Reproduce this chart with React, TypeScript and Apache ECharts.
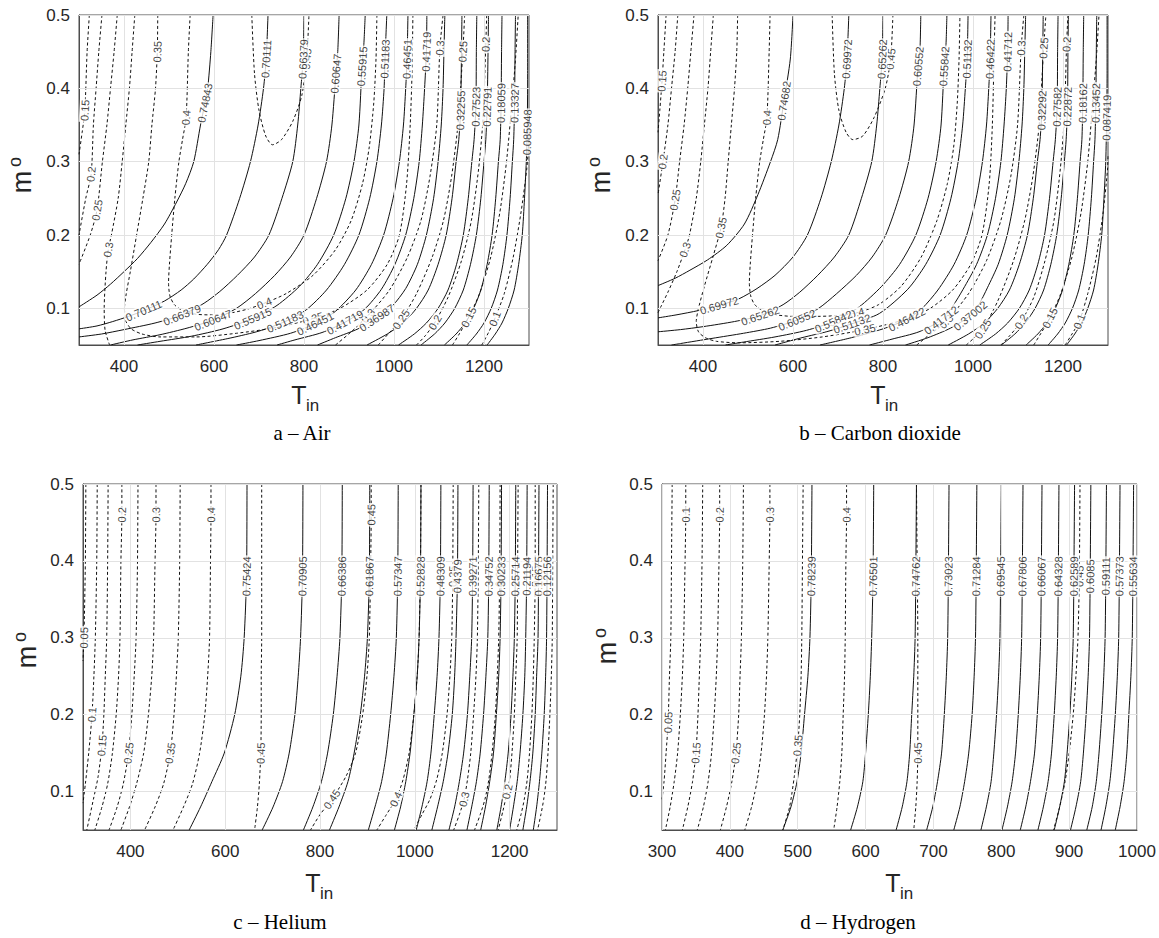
import React, { useEffect, useRef } from 'react';
import * as echarts from 'echarts';

type Line = { v: string; d: boolean; p: number[][]; l: number[] };

// ---------- tick labels ----------
const X_TICKS_WIDE = [400, 600, 800, 1000, 1200];
const X_TICKS_H2 = [300, 400, 500, 600, 700, 800, 900, 1000];
const Y_TICKS = [0.1, 0.2, 0.3, 0.4, 0.5];

// ---------- a – Air ----------
const AIR_SOLID: Line[] = [
  { v: '0.74843', d: false, l: [3], p: [[598,0.5],[593,0.45],[586,0.4],[580,0.38],[570,0.35],[555,0.3],[537,0.27],[517,0.245],[490,0.215],[460,0.19],[430,0.168],[400,0.15],[370,0.133],[340,0.118],[300,0.102]] },
  { v: '0.70111', d: false, l: [1, 12], p: [[720,0.5],[716,0.44],[710,0.4],[698,0.35],[681,0.3],[657,0.25],[628,0.2],[610,0.18],[585,0.16],[555,0.14],[527,0.125],[490,0.11],[444,0.097],[410,0.089],[375,0.082],[340,0.076],[300,0.072]] },
  { v: '0.66379', d: false, l: [1, 11], p: [[800,0.5],[798,0.44],[793,0.4],[786,0.35],[775,0.3],[751,0.25],[722,0.2],[690,0.17],[652,0.145],[613,0.123],[578,0.107],[529,0.091],[469,0.08],[400,0.071],[350,0.065],[300,0.061]] },
  { v: '0.60647', d: false, l: [2, 11], p: [[878,0.5],[875,0.45],[871,0.42],[862,0.35],[850,0.3],[828,0.25],[800,0.2],[770,0.17],[735,0.145],[692,0.12],[650,0.1],[598,0.084],[540,0.073],[480,0.064],[420,0.057],[370,0.05]] },
  { v: '0.55915', d: false, l: [2, 10], p: [[936,0.5],[933,0.46],[929,0.43],[922,0.35],[911,0.3],[893,0.25],[866,0.2],[830,0.16],[790,0.13],[740,0.104],[686,0.086],[620,0.072],[550,0.062],[480,0.055],[430,0.05]] },
  { v: '0.51183', d: false, l: [1, 10], p: [[984,0.5],[980,0.44],[978,0.4],[972,0.35],[962,0.3],[946,0.25],[922,0.2],[890,0.16],[850,0.125],[805,0.098],[758,0.082],[700,0.069],[640,0.06],[560,0.05]] },
  { v: '0.46451', d: false, l: [1, 10], p: [[1031,0.5],[1029,0.44],[1026,0.4],[1021,0.35],[1012,0.3],[998,0.25],[977,0.2],[950,0.16],[915,0.125],[870,0.096],[825,0.079],[770,0.066],[700,0.056],[650,0.05]] },
  { v: '0.41719', d: false, l: [1, 10], p: [[1073,0.5],[1072,0.45],[1068,0.4],[1063,0.35],[1056,0.3],[1044,0.25],[1026,0.2],[1002,0.16],[972,0.126],[935,0.099],[891,0.081],[840,0.067],[780,0.057],[740,0.05]] },
  { v: '0.36987', d: false, l: [10], p: [[1113,0.5],[1111,0.45],[1109,0.4],[1105,0.35],[1098,0.3],[1088,0.25],[1072,0.2],[1052,0.16],[1026,0.127],[996,0.103],[962,0.087],[920,0.072],[870,0.06],[830,0.05]] },
  { v: '0.32255', d: false, l: [2], p: [[1151,0.5],[1150,0.45],[1148,0.37],[1144,0.33],[1138,0.3],[1129,0.25],[1116,0.2],[1098,0.16],[1076,0.125],[1050,0.1],[1020,0.08],[985,0.065],[940,0.05]] },
  { v: '0.27523', d: false, l: [2], p: [[1184,0.5],[1183,0.45],[1182,0.375],[1178,0.33],[1173,0.3],[1165,0.25],[1154,0.2],[1139,0.16],[1120,0.125],[1098,0.1],[1072,0.08],[1045,0.065],[1010,0.05]] },
  { v: '0.22791', d: false, l: [2], p: [[1210,0.5],[1209,0.45],[1207,0.375],[1204,0.33],[1200,0.3],[1193,0.25],[1183,0.2],[1170,0.16],[1154,0.125],[1135,0.1],[1113,0.08],[1090,0.065],[1060,0.05]] },
  { v: '0.18059', d: false, l: [2], p: [[1240,0.5],[1239,0.45],[1238,0.38],[1236,0.33],[1232,0.3],[1226,0.25],[1218,0.2],[1207,0.16],[1193,0.125],[1177,0.1],[1158,0.08],[1138,0.065],[1112,0.05]] },
  { v: '0.13327', d: false, l: [2], p: [[1270,0.5],[1269,0.45],[1268,0.38],[1266,0.33],[1263,0.3],[1258,0.25],[1251,0.2],[1242,0.16],[1230,0.125],[1216,0.1],[1200,0.08],[1183,0.065],[1162,0.05]] },
  { v: '0.085948', d: false, l: [2], p: [[1297,0.5],[1297,0.42],[1296,0.34],[1294,0.3],[1290,0.25],[1285,0.2],[1277,0.16],[1267,0.125],[1254,0.1],[1240,0.08],[1225,0.065],[1207,0.05]] },
];
const AIR_DASHED: Line[] = [
  { v: '0.45', d: true, l: [8], p: [[684,0.5],[690,0.42],[700,0.37],[715,0.335],[730,0.323],[750,0.33],[775,0.355],[795,0.39],[806,0.44],[811,0.5]] },
  { v: '0.4', d: true, l: [2, 16], p: [[547,0.5],[543,0.45],[538,0.36],[530,0.33],[522,0.3],[513,0.25],[506,0.2],[501,0.16],[499,0.135],[502,0.117],[512,0.105],[530,0.097],[560,0.092],[600,0.091],[640,0.094],[675,0.099],[712,0.107],[760,0.12],[820,0.145],[870,0.18],[905,0.22],[930,0.27],[945,0.32],[955,0.38],[960,0.44],[962,0.5]] },
  { v: '0.35', d: true, l: [1, 17], p: [[475,0.5],[474,0.45],[470,0.4],[462,0.35],[455,0.3],[442,0.25],[428,0.2],[414,0.15],[405,0.12],[401,0.1],[404,0.083],[416,0.072],[440,0.065],[480,0.061],[560,0.061],[650,0.066],[740,0.074],[820,0.086],[880,0.1],[940,0.125],[985,0.16],[1012,0.2],[1028,0.27],[1036,0.35],[1040,0.42],[1042,0.5]] },
  { v: '0.3', d: true, l: [7], p: [[424,0.5],[418,0.45],[412,0.4],[404,0.35],[396,0.3],[387,0.25],[372,0.2],[365,0.18],[360,0.15],[356,0.1],[358,0.07],[368,0.05]] },
  { v: '0.3', d: true, l: [2, 8], p: [[870,0.05],[905,0.068],[942,0.09],[990,0.125],[1030,0.17],[1060,0.22],[1080,0.28],[1095,0.35],[1102,0.455],[1109,0.5]] },
  { v: '0.25', d: true, l: [5], p: [[385,0.5],[378,0.45],[370,0.4],[362,0.35],[352,0.3],[340,0.234],[325,0.2],[300,0.16]] },
  { v: '0.25', d: true, l: [2, 8], p: [[965,0.05],[990,0.067],[1016,0.085],[1050,0.12],[1085,0.17],[1110,0.22],[1128,0.28],[1142,0.35],[1153,0.45],[1157,0.5]] },
  { v: '0.2', d: true, l: [4], p: [[351,0.5],[344,0.45],[338,0.4],[332,0.35],[327,0.283],[315,0.25],[300,0.2]] },
  { v: '0.2', d: true, l: [2, 8], p: [[1050,0.05],[1070,0.063],[1091,0.081],[1120,0.115],[1150,0.165],[1172,0.22],[1188,0.29],[1198,0.36],[1204,0.46],[1206,0.5]] },
  { v: '0.15', d: true, l: [2], p: [[323,0.5],[318,0.45],[313,0.37],[307,0.34],[300,0.31]] },
  { v: '0.15', d: true, l: [2], p: [[1130,0.05],[1145,0.065],[1166,0.088],[1190,0.12],[1215,0.17],[1235,0.23],[1250,0.3],[1262,0.38],[1270,0.44],[1276,0.5]] },
  { v: '0.1', d: true, l: [2], p: [[1195,0.05],[1210,0.067],[1224,0.086],[1245,0.12],[1265,0.17],[1282,0.23],[1295,0.29],[1300,0.33]] },
];

// ---------- b – Carbon dioxide ----------
const CO2_SOLID: Line[] = [
  { v: '0.74682', d: false, l: [2], p: [[600,0.5],[594,0.44],[580,0.383],[566,0.33],[550,0.3],[522,0.255],[492,0.215],[453,0.186],[410,0.166],[371,0.152],[338,0.141],[300,0.131]] },
  { v: '0.69972', d: false, l: [1, 11], p: [[724,0.5],[720,0.44],[714,0.4],[702,0.35],[685,0.3],[662,0.25],[632,0.2],[600,0.17],[560,0.145],[520,0.127],[480,0.113],[436,0.104],[390,0.097],[340,0.091],[300,0.087]] },
  { v: '0.65262', d: false, l: [1, 11], p: [[800,0.5],[798,0.44],[793,0.4],[786,0.35],[775,0.3],[752,0.25],[724,0.2],[692,0.17],[655,0.145],[615,0.122],[578,0.105],[527,0.09],[470,0.082],[400,0.075],[350,0.071],[300,0.068]] },
  { v: '0.60552', d: false, l: [2, 11], p: [[884,0.5],[882,0.45],[878,0.43],[869,0.35],[857,0.3],[835,0.25],[806,0.2],[776,0.17],[741,0.145],[697,0.12],[657,0.1],[609,0.084],[550,0.073],[490,0.066],[420,0.059],[350,0.052],[330,0.05]] },
  { v: '0.55842', d: false, l: [2, 10], p: [[942,0.5],[940,0.46],[936,0.43],[929,0.35],[918,0.3],[900,0.25],[873,0.2],[837,0.16],[797,0.13],[747,0.102],[690,0.082],[630,0.07],[560,0.061],[490,0.054],[450,0.05]] },
  { v: '0.51132', d: false, l: [1, 10], p: [[989,0.5],[987,0.44],[983,0.4],[977,0.35],[967,0.3],[951,0.25],[927,0.2],[895,0.16],[855,0.126],[792,0.093],[731,0.079],[680,0.069],[620,0.06],[560,0.05]] },
  { v: '0.46422', d: false, l: [1, 10], p: [[1040,0.5],[1038,0.44],[1035,0.4],[1030,0.35],[1021,0.3],[1007,0.25],[986,0.2],[958,0.16],[922,0.125],[887,0.1],[853,0.085],[800,0.072],[730,0.06],[660,0.05]] },
  { v: '0.41712', d: false, l: [1, 10], p: [[1078,0.5],[1077,0.45],[1074,0.4],[1069,0.35],[1062,0.3],[1050,0.25],[1032,0.2],[1008,0.16],[978,0.126],[955,0.103],[929,0.084],[880,0.068],[820,0.058],[770,0.05]] },
  { v: '0.37002', d: false, l: [10], p: [[1117,0.5],[1115,0.45],[1113,0.4],[1109,0.35],[1102,0.3],[1092,0.25],[1076,0.2],[1056,0.16],[1032,0.128],[1013,0.105],[994,0.09],[950,0.073],[900,0.06],[850,0.05]] },
  { v: '0.32292', d: false, l: [2], p: [[1156,0.5],[1155,0.45],[1153,0.37],[1149,0.33],[1143,0.3],[1134,0.25],[1121,0.2],[1103,0.16],[1081,0.125],[1055,0.1],[1025,0.08],[990,0.065],[945,0.05]] },
  { v: '0.27582', d: false, l: [2], p: [[1189,0.5],[1188,0.45],[1187,0.375],[1183,0.33],[1178,0.3],[1170,0.25],[1159,0.2],[1144,0.16],[1125,0.125],[1103,0.1],[1077,0.08],[1050,0.065],[1015,0.05]] },
  { v: '0.22872', d: false, l: [2], p: [[1212,0.5],[1211,0.45],[1210,0.375],[1207,0.33],[1203,0.3],[1196,0.25],[1186,0.2],[1173,0.16],[1157,0.125],[1138,0.1],[1116,0.08],[1093,0.065],[1063,0.05]] },
  { v: '0.18162', d: false, l: [2], p: [[1246,0.5],[1245,0.45],[1244,0.38],[1242,0.33],[1238,0.3],[1232,0.25],[1224,0.2],[1213,0.16],[1199,0.125],[1183,0.1],[1164,0.08],[1144,0.065],[1118,0.05]] },
  { v: '0.13452', d: false, l: [2], p: [[1275,0.5],[1274,0.45],[1273,0.38],[1271,0.33],[1268,0.3],[1263,0.25],[1256,0.2],[1247,0.16],[1235,0.125],[1221,0.1],[1205,0.08],[1188,0.065],[1167,0.05]] },
  { v: '0.087419', d: false, l: [2], p: [[1298,0.5],[1298,0.42],[1297,0.36],[1295,0.3],[1291,0.25],[1286,0.2],[1278,0.16],[1268,0.125],[1255,0.1],[1241,0.08],[1226,0.065],[1208,0.05]] },
];
const CO2_DASHED: Line[] = [
  { v: '0.45', d: true, l: [8], p: [[687,0.5],[692,0.42],[702,0.37],[718,0.34],[733,0.33],[755,0.335],[780,0.36],[805,0.4],[817,0.44],[822,0.5]] },
  { v: '0.4', d: true, l: [2, 16], p: [[549,0.5],[547,0.45],[542,0.36],[534,0.33],[526,0.3],[517,0.25],[510,0.2],[505,0.16],[503,0.135],[506,0.117],[515,0.105],[535,0.096],[565,0.091],[600,0.089],[645,0.089],[695,0.09],[742,0.094],[790,0.105],[840,0.13],[885,0.17],[920,0.22],[943,0.27],[957,0.32],[965,0.38],[969,0.44],[971,0.5]] },
  { v: '0.35', d: true, l: [6, 17], p: [[477,0.5],[475,0.45],[470,0.4],[463,0.35],[456,0.3],[449,0.25],[440,0.21],[422,0.17],[403,0.13],[390,0.1],[385,0.082],[390,0.068],[405,0.06],[430,0.055],[480,0.053],[570,0.055],[665,0.061],[760,0.071],[850,0.085],[905,0.1],[955,0.125],[995,0.16],[1020,0.2],[1036,0.27],[1043,0.35],[1047,0.45],[1049,0.5]] },
  { v: '0.3', d: true, l: [7], p: [[423,0.5],[417,0.45],[411,0.4],[403,0.35],[395,0.3],[385,0.25],[370,0.2],[360,0.18],[342,0.15],[322,0.122],[307,0.103],[300,0.094]] },
  { v: '0.3', d: true, l: [2, 8], p: [[875,0.05],[905,0.065],[940,0.082],[990,0.12],[1030,0.165],[1062,0.22],[1084,0.28],[1099,0.35],[1107,0.455],[1113,0.5]] },
  { v: '0.25', d: true, l: [5], p: [[380,0.5],[373,0.45],[366,0.4],[358,0.35],[348,0.3],[338,0.248],[322,0.2],[300,0.165]] },
  { v: '0.25', d: true, l: [2, 8], p: [[985,0.05],[1003,0.06],[1022,0.072],[1055,0.11],[1090,0.165],[1115,0.22],[1133,0.28],[1147,0.35],[1157,0.455],[1162,0.5]] },
  { v: '0.2', d: true, l: [4], p: [[344,0.5],[338,0.45],[330,0.4],[322,0.35],[311,0.3],[300,0.255]] },
  { v: '0.2', d: true, l: [2, 8], p: [[1062,0.05],[1082,0.063],[1107,0.082],[1135,0.115],[1160,0.165],[1180,0.22],[1194,0.29],[1203,0.36],[1208,0.46],[1211,0.5]] },
  { v: '0.15', d: true, l: [2], p: [[318,0.5],[313,0.45],[309,0.41],[304,0.37],[300,0.34]] },
  { v: '0.15', d: true, l: [2], p: [[1135,0.05],[1150,0.065],[1171,0.087],[1195,0.12],[1220,0.17],[1240,0.23],[1255,0.3],[1266,0.38],[1274,0.44],[1280,0.5]] },
  { v: '0.1', d: true, l: [2], p: [[1205,0.05],[1220,0.065],[1236,0.082],[1255,0.12],[1274,0.17],[1289,0.23],[1299,0.29],[1300,0.31]] },
];

// ---------- c – Helium ----------
const M_LEVELS = [0.5, 0.38, 0.3, 0.25, 0.2, 0.15, 0.113, 0.08, 0.05];
const HE_SOLID_VALUES = ['0.75424','0.70905','0.66386','0.61867','0.57347','0.52828','0.48309','0.4379','0.39271','0.34752','0.30233','0.25714','0.21194','0.16675','0.12156'];
const HE_SOLID_T = [
  [646,645,640,633,620,598,572,548,524],
  [764,763,759,754,747,735,721,701,678],
  [847,846,842,836,828,816,803,785,765],
  [905,904,900,894,885,872,859,840,820],
  [965,964,961,956,949,940,930,916,902],
  [1013,1012,1009,1005,998,990,981,970,957],
  [1055,1054,1051,1047,1041,1034,1026,1015,1003],
  [1091,1090,1087,1084,1079,1070,1060,1048,1036],
  [1123,1122,1120,1116,1111,1103,1094,1084,1072],
  [1157,1156,1154,1150,1145,1138,1130,1120,1110],
  [1183,1182,1180,1177,1172,1166,1158,1149,1139],
  [1213,1212,1210,1207,1203,1197,1190,1182,1173],
  [1237,1236,1234,1232,1228,1222,1216,1208,1200],
  [1262,1261,1260,1257,1254,1249,1243,1236,1228],
  [1280,1279,1278,1276,1273,1268,1263,1257,1250],
];
const HE_DASHED: Line[] = [
  { v: '0.05', d: true, l: [2], p: [[306,0.5],[305,0.4],[302,0.3],[300,0.27]] },
  { v: '0.1', d: true, l: [4], p: [[330,0.5],[329,0.4],[326,0.3],[323,0.25],[319,0.2],[312,0.15],[305,0.11],[300,0.085]] },
  { v: '0.15', d: true, l: [5], p: [[353,0.5],[352,0.4],[350,0.3],[347,0.25],[344,0.2],[340,0.16],[332,0.12],[322,0.09],[308,0.05]] },
  { v: '0.2', d: true, l: [1], p: [[382,0.5],[382,0.46],[380,0.4],[378,0.3],[375,0.25],[370,0.2],[362,0.15],[352,0.11],[340,0.08],[325,0.05]] },
  { v: '0.25', d: true, l: [5], p: [[416,0.5],[415,0.4],[412,0.3],[408,0.25],[403,0.2],[396,0.15],[385,0.11],[372,0.08],[355,0.05]] },
  { v: '0.3', d: true, l: [1], p: [[454,0.5],[454,0.46],[452,0.4],[449,0.3],[445,0.25],[438,0.2],[428,0.15],[413,0.11],[398,0.08],[380,0.05]] },
  { v: '0.35', d: true, l: [5], p: [[505,0.5],[504,0.4],[501,0.3],[497,0.25],[492,0.2],[484,0.15],[470,0.11],[452,0.08],[430,0.05]] },
  { v: '0.4', d: true, l: [1], p: [[570,0.5],[570,0.46],[569,0.4],[567,0.3],[563,0.25],[557,0.2],[546,0.15],[531,0.11],[512,0.08],[490,0.05]] },
  { v: '0.45', d: true, l: [5], p: [[677,0.5],[677,0.4],[677,0.3],[676,0.25],[676,0.2],[675,0.15],[672,0.11],[668,0.08],[662,0.05]] },
  { v: '0.45', d: true, l: [1, 8], p: [[908,0.5],[908,0.46],[907,0.4],[904,0.3],[899,0.25],[890,0.2],[875,0.15],[855,0.12],[825,0.09],[800,0.07],[780,0.05]] },
  { v: '0.4', d: true, l: [7], p: [[1013,0.5],[1012,0.4],[1009,0.3],[1005,0.25],[998,0.2],[988,0.15],[975,0.115],[960,0.09],[940,0.07],[920,0.05]] },
  { v: '0.35', d: true, l: [1], p: [[1081,0.5],[1080,0.38],[1078,0.3],[1074,0.25],[1068,0.2],[1058,0.15],[1046,0.115],[1032,0.09],[1015,0.07],[998,0.05]] },
  { v: '0.3', d: true, l: [7], p: [[1135,0.5],[1134,0.4],[1132,0.3],[1129,0.25],[1124,0.2],[1118,0.15],[1111,0.115],[1104,0.09],[1094,0.07],[1082,0.05]] },
  { v: '0.25', d: true, l: [1], p: [[1180,0.5],[1179,0.38],[1177,0.3],[1174,0.25],[1170,0.2],[1163,0.15],[1156,0.115],[1148,0.09],[1138,0.07],[1126,0.05]] },
  { v: '0.2', d: true, l: [7], p: [[1218,0.5],[1217,0.4],[1216,0.3],[1213,0.25],[1210,0.2],[1205,0.15],[1200,0.115],[1195,0.1],[1186,0.075],[1176,0.05]] },
  { v: '0.15', d: true, l: [1], p: [[1254,0.5],[1254,0.38],[1252,0.3],[1250,0.25],[1247,0.2],[1242,0.15],[1237,0.115],[1231,0.09],[1224,0.07],[1215,0.05]] },
  { v: '0.1', d: true, l: [], p: [[1292,0.5],[1291,0.4],[1290,0.3],[1288,0.25],[1285,0.2],[1281,0.15],[1277,0.115],[1272,0.09],[1266,0.07],[1259,0.05]] },
];

// ---------- d – Hydrogen ----------
const H2_SOLID_VALUES = ['0.78239','0.76501','0.74762','0.73023','0.71284','0.69545','0.67806','0.66067','0.64328','0.62589','0.6085','0.59111','0.57373','0.55634'];
const H2_SOLID_T = [
  [521,520,518,515,510,505,499,490,478],
  [612,611,609,607,604,600,596,588,578],
  [675,674,673,671,668,665,661,654,645],
  [723,722,721,719,716,712,706,699,690],
  [764,763,762,760,757,752,746,739,730],
  [800,799,798,796,793,789,785,778,770],
  [832,831,830,828,825,821,816,809,801],
  [860,859,858,856,853,849,843,836,828],
  [885,884,883,881,878,874,869,862,854],
  [908,907,906,904,901,897,893,886,878],
  [932,931,930,928,925,921,917,910,902],
  [955,954,953,951,948,944,940,934,926],
  [975,974,973,971,968,964,960,954,947],
  [995,994,993,991,988,985,981,975,968],
];
const H2_DASHED: Line[] = [
  { v: '0.05', d: true, l: [4], p: [[315,0.5],[314,0.4],[313,0.3],[311,0.25],[309,0.19],[306,0.15],[303,0.113],[300,0.09]] },
  { v: '0.1', d: true, l: [1], p: [[335,0.5],[335,0.46],[334,0.4],[332,0.3],[330,0.25],[327,0.2],[323,0.15],[318,0.113],[312,0.08],[305,0.05]] },
  { v: '0.15', d: true, l: [5], p: [[360,0.5],[359,0.4],[357,0.3],[355,0.25],[353,0.2],[350,0.15],[345,0.113],[338,0.08],[330,0.05]] },
  { v: '0.2', d: true, l: [1], p: [[385,0.5],[385,0.46],[384,0.4],[382,0.3],[380,0.25],[377,0.2],[373,0.15],[368,0.113],[361,0.08],[352,0.05]] },
  { v: '0.25', d: true, l: [5], p: [[420,0.5],[419,0.4],[417,0.3],[415,0.25],[413,0.2],[409,0.15],[403,0.113],[395,0.08],[386,0.05]] },
  { v: '0.3', d: true, l: [1], p: [[459,0.5],[459,0.46],[458,0.4],[456,0.3],[454,0.25],[451,0.2],[446,0.15],[440,0.113],[432,0.08],[422,0.05]] },
  { v: '0.35', d: true, l: [5], p: [[508,0.5],[507,0.4],[506,0.3],[505,0.25],[503,0.2],[500,0.16],[495,0.12],[488,0.08],[478,0.05]] },
  { v: '0.4', d: true, l: [1], p: [[572,0.5],[572,0.46],[571,0.4],[570,0.3],[569,0.25],[567,0.2],[565,0.15],[562,0.113],[558,0.08],[553,0.05]] },
  { v: '0.45', d: true, l: [5], p: [[675,0.5],[676,0.4],[677,0.3],[677,0.25],[677,0.2],[677,0.15],[676,0.113],[674,0.08],[671,0.05]] },
  { v: '0.45', d: true, l: [1], p: [[916,0.5],[915,0.38],[913,0.3],[910,0.25],[906,0.2],[900,0.15],[894,0.113],[886,0.08],[877,0.05]] },
];

// ---------- assembly ----------
function fromLevels(values: string[], ts: number[][]): Line[] {
  return values.map((v, i) => ({ v, d: false, l: [1], p: ts[i].map((t, k) => [t, M_LEVELS[k]]) }));
}

const PANELS = [
  { lines: [...AIR_DASHED, ...AIR_SOLID], grid: { left: 79, top: 15, width: 450, height: 330 }, xmin: 300, xmax: 1300, xt: X_TICKS_WIDE,
    title: 'a – Air', tx: 302, ty: 433, Tx: 299, Ty: 395, mx: 22, my: 182 },
  { lines: [...CO2_DASHED, ...CO2_SOLID], grid: { left: 658, top: 15, width: 450, height: 330 }, xmin: 300, xmax: 1300, xt: X_TICKS_WIDE,
    title: 'b – Carbon dioxide', tx: 880, ty: 433, Tx: 878, Ty: 395, mx: 601, my: 182 },
  { lines: [...HE_DASHED, ...fromLevels(HE_SOLID_VALUES, HE_SOLID_T)], grid: { left: 83, top: 484, width: 474, height: 346 }, xmin: 300, xmax: 1300, xt: X_TICKS_WIDE,
    title: 'c – Helium', tx: 280, ty: 922, Tx: 313, Ty: 883, mx: 27, my: 657 },
  { lines: [...H2_DASHED, ...fromLevels(H2_SOLID_VALUES, H2_SOLID_T)], grid: { left: 662, top: 484, width: 475, height: 346 }, xmin: 300, xmax: 1000, xt: X_TICKS_H2,
    title: 'd – Hydrogen', tx: 858, ty: 922, Tx: 893, Ty: 883, mx: 607, my: 653 },
];

const YMIN = 0.05, YMAX = 0.5;
const FONT = 'Liberation Sans';

function angleAt(p: number[][], i: number, sx: number, sy: number) {
  const a = p[Math.max(0, i - 1)], b = p[Math.min(p.length - 1, i + 1)];
  let ang = (Math.atan2((b[1] - a[1]) * sy, (b[0] - a[0]) * sx) * 180) / Math.PI;
  if (ang > 90) ang -= 180;
  if (ang <= -90) ang += 180;
  return ang;
}

function buildOption() {
  const grid: any[] = [], xAxis: any[] = [], yAxis: any[] = [], series: any[] = [], graphic: any[] = [];
  PANELS.forEach((P, g) => {
    grid.push({ ...P.grid, show: true, borderColor: '#4d4d4d', borderWidth: 1, backgroundColor: '#fff' });
    xAxis.push({
      type: 'value', gridIndex: g, min: P.xmin, max: P.xmax,
      axisLine: { show: true, lineStyle: { color: '#4d4d4d', width: 1 } },
      axisTick: { show: true, inside: true, length: 4, customValues: P.xt, lineStyle: { color: '#4d4d4d' } },
      axisLabel: { customValues: P.xt, color: '#262626', fontSize: 17, fontFamily: FONT, margin: 13, formatter: (v: number) => String(v) },
      splitLine: { show: false },
    });
    yAxis.push({
      type: 'value', gridIndex: g, min: YMIN, max: YMAX,
      axisLine: { show: true, lineStyle: { color: '#4d4d4d', width: 1 } },
      axisTick: { show: true, inside: true, length: 4, customValues: Y_TICKS, lineStyle: { color: '#4d4d4d' } },
      axisLabel: { customValues: Y_TICKS, color: '#262626', fontSize: 17, fontFamily: FONT, margin: 9, formatter: (v: number) => String(+v.toFixed(2)) },
      splitLine: { show: false },
    });
    // grid lines at the tick values
    series.push({
      type: 'line', xAxisIndex: g, yAxisIndex: g, data: [], silent: true, z: 1,
      markLine: {
        silent: true, symbol: ['none', 'none'], label: { show: false }, animation: false,
        lineStyle: { color: '#e2e2e2', type: 'solid', width: 1 },
        data: [...P.xt.map((v) => ({ xAxis: v })), ...Y_TICKS.map((v) => ({ yAxis: v }))],
      },
    });
    const sx = P.grid.width / (P.xmax - P.xmin);
    const sy = P.grid.height / (YMAX - YMIN);
    const labels: any[] = [];
    P.lines.forEach((L) => {
      series.push({
        type: 'line', xAxisIndex: g, yAxisIndex: g, data: L.p, showSymbol: false, symbol: 'none',
        smooth: 0.25, silent: true, z: 3, clip: true,
        lineStyle: { color: '#111', width: 1, type: L.d ? [3, 2.5] : 'solid' },
      });
      L.l.forEach((i) => {
        labels.push({ value: L.p[i], label: { formatter: L.v, rotate: angleAt(L.p, i, sx, sy) } });
      });
    });
    series.push({
      type: 'scatter', xAxisIndex: g, yAxisIndex: g, data: labels, symbolSize: 0, silent: true, z: 5,
      label: { show: true, position: 'inside', fontSize: 11, fontFamily: FONT, color: '#111', backgroundColor: '#fff', padding: [0, 1] },
    });
    // captions and axis titles
    graphic.push(
      { type: 'text', x: P.tx, y: P.ty, style: { text: P.title, fontSize: 21, fontFamily: 'Liberation Serif', fill: '#000', textAlign: 'center', textVerticalAlign: 'middle' } },
      { type: 'text', x: P.Tx, y: P.Ty, style: { text: 'T', fontSize: 25, fontFamily: FONT, fill: '#262626', textAlign: 'center', textVerticalAlign: 'middle' } },
      { type: 'text', x: P.Tx + 7, y: P.Ty + 10, style: { text: 'in', fontSize: 17, fontFamily: FONT, fill: '#262626', textAlign: 'left', textVerticalAlign: 'middle' } },
      { type: 'text', x: P.mx, y: P.my, rotation: Math.PI / 2, style: { text: 'm', fontSize: 27, fontFamily: FONT, fill: '#262626', textAlign: 'center', textVerticalAlign: 'middle' } },
      { type: 'text', x: P.mx - 7, y: P.my - 20, rotation: Math.PI / 2, style: { text: 'o', fontSize: 18, fontFamily: FONT, fill: '#262626', textAlign: 'center', textVerticalAlign: 'middle' } },
    );
  });
  return { animation: false, backgroundColor: '#fff', grid, xAxis, yAxis, series, graphic };
}

export default function App() {
  const ref = useRef<HTMLDivElement>(null);
  useEffect(() => {
    if (!ref.current) return;
    const chart = echarts.init(ref.current, null, { renderer: 'svg' });
    chart.setOption(buildOption() as any);
    return () => chart.dispose();
  }, []);
  return <div ref={ref} style={{ position: 'absolute', left: 0, top: 0, width: 1159, height: 938, background: '#fff' }} />;
}
